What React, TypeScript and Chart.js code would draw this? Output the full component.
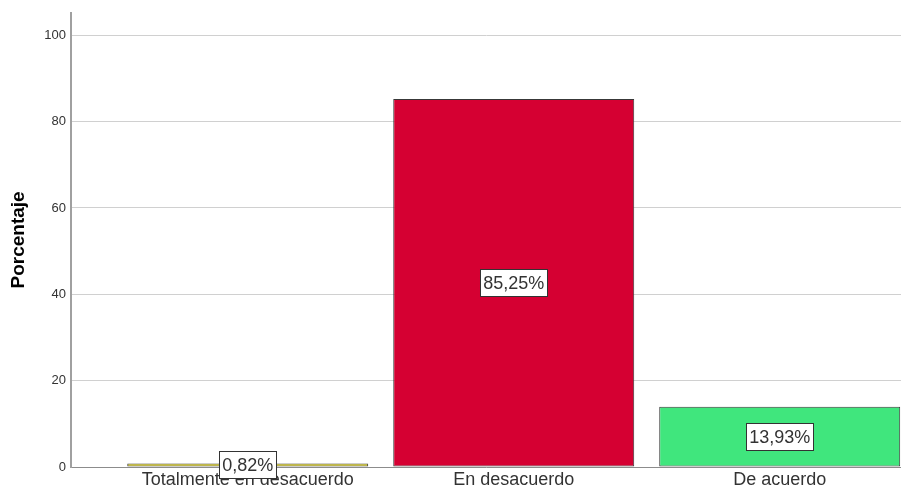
import React, { useEffect, useRef } from "react";
import { Chart, registerables } from "chart.js";

Chart.register(...registerables);

const categories = ["Totalmente en desacuerdo", "En desacuerdo", "De acuerdo"];
const percentages = [0.82, 85.25, 13.93];
const valueLabels = ["0,82%", "85,25%", "13,93%"];
const barColors = ["#e0d000", "#d50032", "#40e67d"];
const yTicks = [0, 20, 40, 60, 80, 100];

const FONT = "'Liberation Sans', Arial, sans-serif";

const valueBoxPlugin = {
  id: "valueBoxes",
  afterDatasetsDraw(chart: any) {
    const ctx = chart.ctx;
    const meta = chart.getDatasetMeta(0);
    ctx.save();
    ctx.font = `18px ${FONT}`;
    ctx.textAlign = "center";
    ctx.textBaseline = "middle";
    meta.data.forEach((bar: any, i: number) => {
      const text = valueLabels[i];
      const cx = bar.x;
      const cy = (bar.y + bar.base) / 2;
      const w = Math.round(ctx.measureText(text).width + 6);
      const h = 27;
      const x0 = Math.round(cx - w / 2) + 0.5;
      const y0 = Math.round(cy - h / 2) + 0.5;
      ctx.fillStyle = "#ffffff";
      ctx.fillRect(x0, y0, w, h);
      ctx.strokeStyle = "#333333";
      ctx.lineWidth = 1;
      ctx.strokeRect(x0, y0, w, h);
      ctx.fillStyle = "#333333";
      ctx.fillText(text, cx, cy + 1);
    });
    ctx.restore();
  },
};

export default function App() {
  const canvasRef = useRef<HTMLCanvasElement | null>(null);

  useEffect(() => {
    if (!canvasRef.current) return;
    const chart = new Chart(canvasRef.current, {
      type: "bar",
      data: {
        datasets: [
          {
            data: percentages.map((v, i) => ({ x: i, y: v })),
            backgroundColor: barColors,
            borderColor: "#383838",
            borderWidth: 1,
            borderSkipped: false,
            barPercentage: 0.906,
            categoryPercentage: 1,
          },
        ],
      },
      options: {
        animation: false,
        responsive: true,
        maintainAspectRatio: false,
        layout: { padding: { top: 12, right: 0, left: 0, bottom: 0 } },
        plugins: {
          legend: { display: false },
          tooltip: { enabled: false },
        },
        scales: {
          x: {
            type: "linear",
            offset: false,
            min: -0.6645,
            max: 2.456,
            afterBuildTicks: (scale: any) => {
              scale.ticks = categories.map((_, i) => ({ value: i }));
            },
            afterFit: (scale: any) => {
              scale.height = 29;
            },
            ticks: {
              autoSkip: false,
              maxRotation: 0,
              padding: 2,
              color: "#333333",
              font: { family: FONT, size: 18 },
              callback: (v: any) => categories[v as number] ?? "",
            },
            grid: { display: false, drawTicks: false },
            border: { display: true, color: "#8c8c8c", width: 1 },
          },
          y: {
            min: 0,
            max: 105.2,
            afterBuildTicks: (scale: any) => {
              scale.ticks = yTicks.map((v) => ({ value: v }));
            },
            afterFit: (scale: any) => {
              scale.width = 71;
            },
            ticks: {
              padding: 5,
              color: "#333333",
              font: { family: FONT, size: 13 },
            },
            grid: { color: "#d0d0d0", lineWidth: 1, drawTicks: false },
            border: { display: true, color: "#a0a0a0", width: 2 },
            title: {
              display: true,
              text: "Porcentaje",
              color: "#000000",
              font: { family: FONT, size: 19, weight: "bold" },
              padding: { top: 7, bottom: 0 },
            },
          },
        },
      },
      plugins: [valueBoxPlugin],
    });
    return () => chart.destroy();
  }, []);

  return (
    <div style={{ position: "absolute", left: 0, top: 0, width: 901, height: 496, background: "#fff" }}>
      <canvas ref={canvasRef} />
    </div>
  );
}
